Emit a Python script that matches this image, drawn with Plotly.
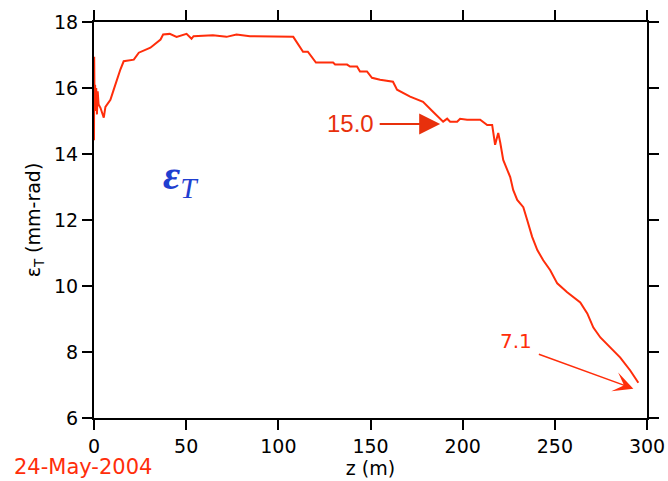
import plotly.graph_objects as go

# Emittance vs z
z_m = [0.0, 0.1, 0.3, 0.6, 0.9, 1.2, 1.6, 2.0, 2.5, 3.5, 5.3, 6.2, 8.9, 10.7, 12.3, 14.3,
       16.1, 21.6, 24.3, 30.6, 36.1, 37.5, 41.1, 44.8, 50.2, 52.9, 54.0, 64.5, 71.9, 77.3,
       84.6, 95.0, 108.1, 113.4, 116.0, 120.4, 129.7, 130.8, 137.3, 138.9, 142.7, 144.3,
       148.1, 150.8, 155.2, 162.2, 164.4, 171.5, 178.5, 183.9, 189.4, 191.6, 193.2, 197.0,
       198.6, 202.4, 209.5, 213.3, 216.0, 217.6, 219.3, 220.4, 222.0, 225.8, 227.4, 229.6,
       232.9, 235.0, 237.7, 240.5, 243.7, 247.5, 251.3, 256.7, 263.8, 267.6, 270.9, 274.7,
       280.1, 285.5, 290.9, 295.3]
eps_T = [14.42, 16.95, 15.6, 16.1, 15.3, 16.0, 15.2, 15.9, 15.5, 15.40, 15.10, 15.43, 15.64,
         15.95, 16.25, 16.56, 16.81, 16.86, 17.07, 17.22, 17.47, 17.62, 17.64, 17.55, 17.64,
         17.49, 17.57, 17.60, 17.55, 17.62, 17.57, 17.57, 17.55, 17.10, 17.10, 16.77, 16.77,
         16.71, 16.71, 16.65, 16.65, 16.50, 16.50, 16.31, 16.25, 16.19, 15.95, 15.74, 15.58,
         15.28, 14.98, 15.07, 14.98, 14.98, 15.07, 15.04, 15.04, 14.88, 14.88, 14.28, 14.64,
         14.34, 13.82, 13.30, 12.91, 12.61, 12.39, 12.00, 11.49, 11.09, 10.78, 10.48, 10.08,
         9.81, 9.50, 9.17, 8.74, 8.44, 8.14, 7.83, 7.44, 7.07]

x_ticks = [0, 50, 100, 150, 200, 250, 300]
y_ticks = [6, 8, 10, 12, 14, 16, 18]

RED = "#ff2d0a"
TXT = dict(family="DejaVu Sans", size=19, color="black")

fig = go.Figure()
fig.add_trace(go.Scatter(x=z_m, y=eps_T, mode="lines",
                         line=dict(color=RED, width=2), showlegend=False))

axis_common = dict(showline=True, linecolor="black", linewidth=2, mirror="ticks",
                   ticks="outside", ticklen=10, tickwidth=2, tickcolor="black",
                   showgrid=False, zeroline=False, tickfont=TXT, automargin=False)

fig.update_xaxes(range=[0, 300], tickvals=x_ticks, ticktext=[str(v) for v in x_ticks],
                 title=dict(text="z (m)", font=TXT, standoff=6), **axis_common)
fig.update_yaxes(range=[6, 18], tickvals=y_ticks, ticktext=[str(v) for v in y_ticks],
                 title=dict(text="ε<sub>T</sub> (mm-rad)", font=TXT, standoff=8), **axis_common)

# 15.0 label and arrow
fig.add_annotation(x=138.9, y=14.91, text="15.0", showarrow=False,
                   font=dict(family="Liberation Sans", size=24, color="#e8300c"))
fig.add_annotation(x=187.8, y=14.91, ax=-62, ay=0, text="", showarrow=True,
                   arrowhead=2, arrowsize=2.1, arrowwidth=2, arrowcolor="#e8300c")
# 7.1 label and arrow
fig.add_annotation(x=229.1, y=8.32, text="7.1", showarrow=False,
                   font=dict(family="DejaVu Sans", size=20, color=RED))
fig.add_annotation(x=292.6, y=6.89, ax=-96, ay=-35, text="", showarrow=True,
                   arrowhead=3, arrowsize=2.2, arrowwidth=1.5, arrowcolor=RED)
# epsilon_T label
fig.add_annotation(x=47.1, y=13.27, text="<i><b>ε</b><sub>T</sub></i>", showarrow=False,
                   font=dict(family="Liberation Serif", size=42, color="#1f3fd0"))
# date stamp
fig.add_annotation(xref="paper", yref="paper", x=-0.149, y=-0.124, xanchor="left",
                   yanchor="middle", text="24-May-2004", showarrow=False,
                   font=dict(family="DejaVu Sans", size=21, color=RED))

fig.update_layout(width=668, height=481, margin=dict(l=94, r=21, t=22, b=63),
                  paper_bgcolor="white", plot_bgcolor="white")

fig.write_html("out.html")
